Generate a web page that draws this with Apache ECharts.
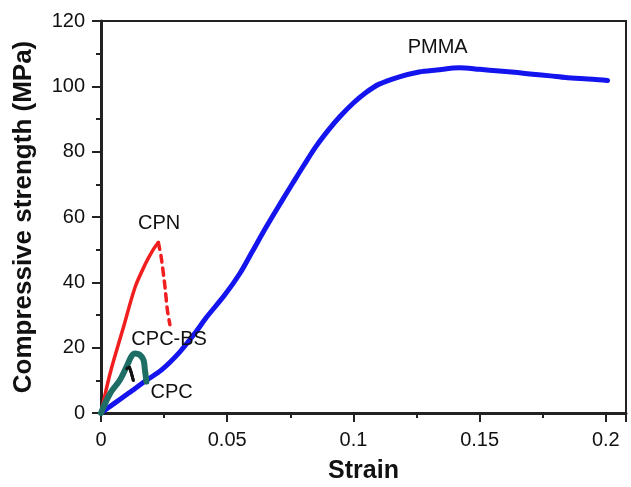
<!DOCTYPE html>
<html>
<head>
<meta charset="utf-8">
<script src="https://cdn.jsdelivr.net/npm/echarts@6/dist/echarts.min.js"></script>
<style>
html,body{margin:0;padding:0;background:#fff;}
#c{width:631px;height:487px;}
</style>
</head>
<body>
<div id="c"></div>
<script>
// Strain vs compressive strength (MPa)
const pmma = [
  [0,0],[0.005,2.8],[0.011,6.1],[0.018,10],[0.024,13.2],[0.031,18.5],[0.0372,24.4],
  [0.0418,29.3],[0.049,36.1],[0.055,42.7],[0.060,49.5],[0.0655,57.0],[0.071,64.1],
  [0.076,70.4],[0.0805,76.0],[0.0852,81.6],[0.09,86.5],[0.0945,90.6],[0.1,94.9],
  [0.105,98.1],[0.11,100.6],[0.1182,102.9],[0.126,104.4],[0.133,105.0],[0.142,105.7],
  [0.150,105.2],[0.1578,104.7],[0.165,104.2],[0.171,103.7],[0.178,103.2],[0.184,102.7],
  [0.1948,102.2],[0.2007,101.8]
];
const cpnRise = [[0,0],[0.0036,12.1],[0.0088,26],[0.0135,38.5],[0.0175,45.5],[0.0205,49.8],[0.0227,52.2]];
const cpnFall = [[0.0227,52.2],[0.0238,48],[0.0253,39],[0.0263,31.5],[0.0273,27]];
const cpcbs = [[0,0],[0.0036,6],[0.0075,10.1],[0.0102,14.3],[0.0121,17.4],[0.0135,18.2],[0.0152,17.9],[0.0168,16.3],[0.0174,13.2],[0.018,9.6]];
const cpc = [[0,0],[0.0036,6],[0.0075,10.1],[0.0102,13.6],[0.0112,14.2],[0.012,12.3],[0.0128,10]];
const annotations = [
  ['PMMA',0.1334,112.0],
  ['CPN',0.023,58.1],
  ['CPC-BS',0.027,22.6],
  ['CPC',0.028,6.2]
];
const xAxisName = 'Strain';
const yAxisName = 'Compressive strength (MPa)';

const FONT = '"Liberation Sans", Arial, sans-serif';
const chart = echarts.init(document.getElementById('c'), null, {renderer:'canvas'});
chart.setOption({
  animation:false,
  backgroundColor:'#fff',
  grid:{left:101,right:5,top:21,bottom:74,outerBoundsMode:'none',containLabel:false,
    show:true,borderColor:'#222',borderWidth:2,backgroundColor:'transparent'},
  xAxis:{
    type:'value',min:0,max:0.208,interval:0.05,
    name:xAxisName,nameLocation:'middle',nameGap:46,
    nameTextStyle:{fontFamily:FONT,fontWeight:'bold',fontSize:25,color:'#111'},
    axisLine:{onZero:false,lineStyle:{color:'#222',width:3}},
    axisTick:{inside:false,length:9,lineStyle:{color:'#222',width:2}},
    minorTick:{show:true,splitNumber:2,length:5,lineStyle:{color:'#222',width:2}},
    axisLabel:{fontFamily:FONT,fontSize:20,color:'#111',margin:17,showMaxLabel:false,
      formatter:v=>(Math.abs(v/0.05-Math.round(v/0.05))<1e-6? String(+v.toFixed(2)) : '')},
    splitLine:{show:false}
  },
  yAxis:{
    type:'value',min:0,max:120,interval:20,
    name:yAxisName,nameLocation:'middle',nameGap:64,
    nameTextStyle:{fontFamily:FONT,fontWeight:'bold',fontSize:26,color:'#111'},
    axisLine:{onZero:false,lineStyle:{color:'#222',width:3}},
    axisTick:{inside:false,length:9,lineStyle:{color:'#222',width:2}},
    minorTick:{show:true,splitNumber:2,length:5,lineStyle:{color:'#222',width:2}},
    axisLabel:{fontFamily:FONT,fontSize:20,color:'#111',margin:16},
    splitLine:{show:false}
  },
  series:[
    {name:'PMMA',type:'line',data:pmma,showSymbol:false,smooth:0.3,
      lineStyle:{color:'#1414ee',width:5,cap:'round',join:'round'},z:2},
    {name:'CPN',type:'line',data:cpnRise,showSymbol:false,smooth:0.3,
      lineStyle:{color:'#f01e1e',width:3.5,cap:'round'},z:3},
    {name:'CPN',type:'line',data:cpnFall,showSymbol:false,smooth:0.2,
      lineStyle:{color:'#f01e1e',width:3.5,type:[7,6],cap:'round'},z:3},
    {name:'CPC',type:'line',data:cpc,showSymbol:false,
      lineStyle:{color:'#111',width:3,cap:'round'},z:3},
    {name:'CPC-BS',type:'line',data:cpcbs,showSymbol:false,smooth:0.4,
      lineStyle:{color:'#1e6e66',width:6,cap:'round',join:'round'},z:4},
    {name:'CPC-top',type:'line',data:cpc.slice(3),showSymbol:false,
      lineStyle:{color:'#111',width:3,cap:'round'},z:5},
    {name:'labels',type:'scatter',data:annotations.map(a=>[a[1],a[2],a[0]]),symbolSize:0,silent:true,z:6,
      itemStyle:{opacity:1},
      label:{show:true,position:'inside',formatter:p=>p.data[2],fontFamily:FONT,fontSize:20,color:'#111',opacity:1}}
  ]
});
</script>
</body>
</html>
